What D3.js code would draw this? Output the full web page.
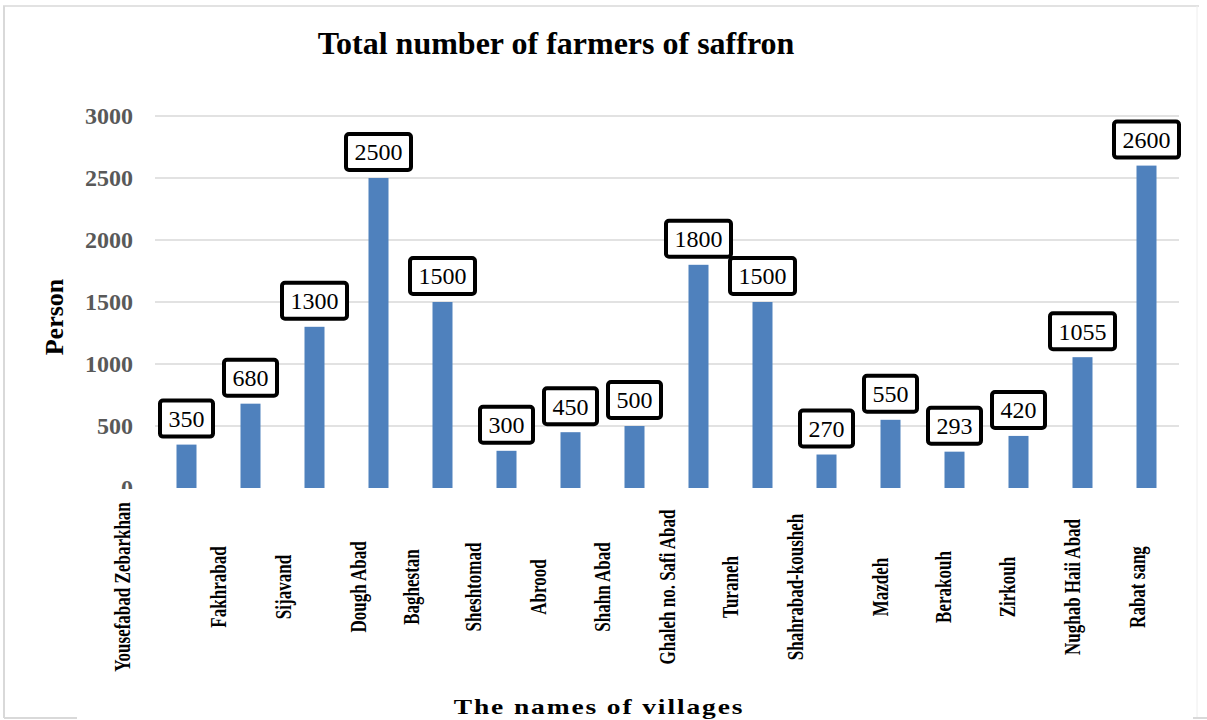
<!DOCTYPE html>
<html>
<head>
<meta charset="utf-8">
<script src="https://cdn.jsdelivr.net/npm/d3@7"></script>
<style>
  body { margin: 0; background: #fff; }
  text { font-family: "Liberation Serif", "Times New Roman", serif; }
</style>
</head>
<body>
<div id="chart"></div>
<script>
const villages = ["Yousefabad Zebarkhan", "Fakhrabad", "Sijavand", "Dough Abad", "Baghestan",
  "Sheshtomad", "Abrood", "Shahn Abad", "Ghaleh no. Safi Abad", "Turaneh",
  "Shahrabad-kousheh", "Mazdeh", "Berakouh", "Zirkouh", "Nughab Haii Abad", "Rabat sang"];
const farmers = [350, 680, 1300, 2500, 1500, 300, 450, 500, 1800, 1500, 270, 550, 293, 420, 1055, 2600];
const yTicks = [0, 500, 1000, 1500, 2000, 2500, 3000];

// the category names sit a little left of their bars in the original
const labelShift = [-65, -33, -32, -21, -32, -34, -33, -33, -32, -33, -32, -11, -12, -12, -11, -10];

const W = 1207, H = 720;
const svg = d3.select("#chart").append("svg")
  .attr("width", W).attr("height", H);

// outer frame
const frame = "#d9d9d9";
svg.append("line").attr("x1", 3).attr("x2", 1199).attr("y1", 6).attr("y2", 6).attr("stroke", frame).attr("stroke-width", 1.5);
svg.append("line").attr("x1", 4).attr("x2", 4).attr("y1", 6).attr("y2", 718).attr("stroke", frame).attr("stroke-width", 2);
svg.append("line").attr("x1", 1197).attr("x2", 1197).attr("y1", 6).attr("y2", 718).attr("stroke", "#eeeeee").attr("stroke-width", 1);
svg.append("line").attr("x1", 4).attr("x2", 77).attr("y1", 718).attr("y2", 718).attr("stroke", frame).attr("stroke-width", 2);
svg.append("line").attr("x1", 1193).attr("x2", 1207).attr("y1", 718).attr("y2", 718).attr("stroke", frame).attr("stroke-width", 2);

const x = d3.scaleBand()
  .domain(villages)
  .range([154.5, 1178.5])
  .paddingInner(0.6875)
  .paddingOuter(0.34375);

const y = d3.scaleLinear().domain([0, 3000]).range([488, 116]);

// gridlines
svg.append("g")
  .selectAll("line")
  .data(yTicks.filter(d => d > 0))
  .join("line")
  .attr("x1", 155).attr("x2", 1179)
  .attr("y1", d => y(d)).attr("y2", d => y(d))
  .attr("stroke", "#d9d9d9").attr("stroke-width", 1.5);

// y tick labels
svg.append("clipPath").attr("id", "yclip")
  .append("rect").attr("x", 0).attr("y", 0).attr("width", 150).attr("height", 489);

svg.append("g")
  .attr("clip-path", "url(#yclip)")
  .selectAll("text")
  .data(yTicks)
  .join("text")
  .attr("x", 133)
  .attr("y", d => y(d))
  .attr("dy", "0.35em")
  .attr("text-anchor", "end")
  .attr("font-size", 24)
  .attr("font-weight", "bold")
  .attr("fill", "#595959")
  .text(d => d);

// bars
svg.append("g")
  .selectAll("rect")
  .data(farmers)
  .join("rect")
  .attr("x", (d, i) => x(villages[i]))
  .attr("y", d => y(d))
  .attr("width", x.bandwidth())
  .attr("height", d => y(0) - y(d))
  .attr("fill", "#4f81bd");

// value boxes
const lab = svg.append("g")
  .selectAll("g")
  .data(farmers)
  .join("g")
  .attr("transform", (d, i) => `translate(${x(villages[i]) + x.bandwidth() / 2},${y(d) - 26})`);

lab.append("rect")
  .attr("fill", "#fff")
  .attr("stroke", "#000")
  .attr("stroke-width", 4)
  .attr("rx", 3);

lab.append("text")
  .attr("text-anchor", "middle")
  .attr("dy", "0.35em")
  .attr("font-size", 24)
  .attr("fill", "#000")
  .text(d => d);

lab.each(function() {
  const g = d3.select(this);
  const w = g.select("text").node().getComputedTextLength() + 17;
  g.select("rect")
    .attr("x", -w / 2).attr("y", -18)
    .attr("width", w).attr("height", 36);
});

// category labels, rotated and condensed
svg.append("g")
  .selectAll("text")
  .data(villages)
  .join("text")
  .attr("transform", (d, i) => `translate(${x(d) + x.bandwidth() / 2 + labelShift[i]},587) rotate(-90) scale(0.74,1)`)
  .attr("text-anchor", "middle")
  .attr("dy", "0.35em")
  .attr("font-size", 23)
  .attr("font-weight", "bold")
  .attr("fill", "#000")
  .text(d => d);

// titles
svg.append("text")
  .attr("x", 556).attr("y", 54)
  .attr("text-anchor", "middle")
  .attr("font-size", 32)
  .attr("font-weight", "bold")
  .text("Total number of farmers of saffron");

svg.append("text")
  .attr("transform", "translate(63,317) rotate(-90)")
  .attr("text-anchor", "middle")
  .attr("font-size", 26)
  .attr("font-weight", "bold")
  .text("Person");

svg.append("text")
  .attr("transform", "translate(599,714) scale(1.25,1)")
  .attr("text-anchor", "middle")
  .attr("font-size", 22)
  .attr("font-weight", "bold")
  .attr("letter-spacing", 1.5)
  .text("The names of villages");
</script>
</body>
</html>
